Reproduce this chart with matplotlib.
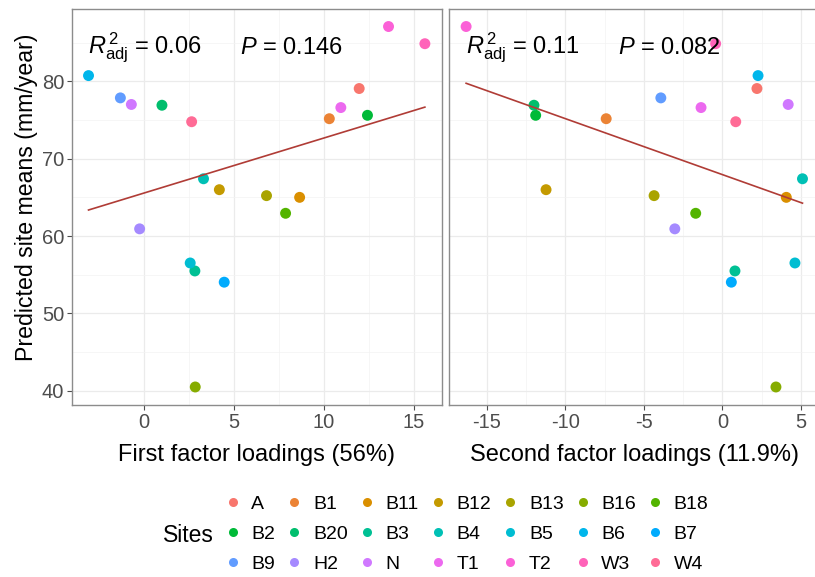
import numpy as np
import matplotlib
matplotlib.use("Agg")
import matplotlib.pyplot as plt
from matplotlib.lines import Line2D

plt.rcParams['font.family'] = ['Liberation Sans', 'DejaVu Sans']
plt.rcParams['mathtext.fontset'] = 'custom'
plt.rcParams['mathtext.rm'] = 'Liberation Sans'
plt.rcParams['mathtext.it'] = 'Liberation Sans:italic'
plt.rcParams['axes.unicode_minus'] = False

sites = ["A", "B1", "B11", "B12", "B13", "B16", "B18",
         "B2", "B20", "B3", "B4", "B5", "B6", "B7",
         "B9", "H2", "N", "T1", "T2", "W3", "W4"]

# factor loadings and predicted site means, one value per site
first_loading = [11.98, 10.32, 8.67, 4.21, 6.83, 2.87, 7.89,
                 12.44, 1.02, 2.85, 3.33, 2.59, -3.06, 4.48,
                 -1.29, -0.22, -0.68, 10.96, 13.61, 15.63, 2.67]
second_loading = [2.20, -7.40, 4.07, -11.23, -4.35, 3.41, -1.70,
                  -11.89, -12.00, 0.80, 5.10, 4.62, 2.27, 0.57,
                  -3.92, -3.03, 4.19, -1.36, -16.32, -0.43, 0.85]
site_means = [79.06, 75.16, 65.00, 65.99, 65.22, 40.50, 62.94,
              75.60, 76.90, 55.49, 67.40, 56.52, 80.73, 54.04,
              77.85, 60.93, 77.00, 76.60, 87.07, 84.85, 74.77]

panels = [
    ("First factor loadings (56%)", first_loading, "0.06", "0.146", [0, 5, 10, 15]),
    ("Second factor loadings (11.9%)", second_loading, "0.11", "0.082", [-15, -10, -5, 0, 5]),
]


def hue_pal(n, c=100.0, l=65.0):
    # ggplot-style evenly spaced HCL hues, converted Luv -> XYZ -> sRGB
    hues = np.linspace(15, 375, n + 1)[:n]
    xn, yn, zn = 95.047, 100.0, 108.883
    un = 4 * xn / (xn + 15 * yn + 3 * zn)
    vn = 9 * yn / (xn + 15 * yn + 3 * zn)
    m = np.array([[3.2404542, -1.5371385, -0.4985314],
                  [-0.9692660, 1.8760108, 0.0415560],
                  [0.0556434, -0.2040259, 1.0572252]])
    out = []
    for h in hues:
        u = c * np.cos(np.radians(h))
        v = c * np.sin(np.radians(h))
        y = yn * ((l + 16) / 116) ** 3
        up = u / (13 * l) + un
        vp = v / (13 * l) + vn
        x = 9 * y * up / (4 * vp)
        z = y * (12 - 3 * up - 20 * vp) / (4 * vp)
        rgb = m @ (np.array([x, y, z]) / 100)
        rgb = np.where(rgb <= 0.0031308, 12.92 * rgb, 1.055 * np.power(np.clip(rgb, 0, None), 1 / 2.4) - 0.055)
        out.append(tuple(np.clip(rgb, 0, 1)))
    return out


colors = hue_pal(len(sites))
W, H = 815, 577
fig = plt.figure(figsize=(W / 100, H / 100), dpi=100)

boxes = [(71.7, 8.5, 370, 396.5), (449.3, 8.5, 370, 396.5)]
yvals = np.array(site_means)

for i, ((title, xs, r2, pval, xticks), (l, t, w, h)) in enumerate(zip(panels, boxes)):
    ax = fig.add_axes([l / W, 1 - (t + h) / H, w / W, h / H])
    xs = np.array(xs)
    ax.scatter(xs, yvals, c=colors, s=62, edgecolors='none', zorder=3)

    slope, icpt = np.polyfit(xs, yvals, 1)
    xl = np.array([xs.min(), xs.max()])
    ax.plot(xl, slope * xl + icpt, color='#B03C36', lw=1.2, zorder=4)

    span = xs.max() - xs.min()
    ax.set_xlim(xs.min() - 0.05 * span, xs.max() + 0.05 * span)
    yspan = yvals.max() - yvals.min()
    ax.set_ylim(yvals.min() - 0.05 * yspan, yvals.max() + 0.05 * yspan)

    ax.set_xticks(xticks)
    ax.set_xticks(np.array(xticks[:-1]) + 2.5, minor=True)
    ax.set_yticks([40, 50, 60, 70, 80])
    ax.set_yticks([45, 55, 65, 75, 85], minor=True)
    ax.grid(which='major', color='#EBEBEB', lw=0.9)
    ax.grid(which='minor', color='#F3F3F3', lw=0.5)
    ax.set_axisbelow(True)
    for sp in ax.spines.values():
        sp.set_color('#8C8C8C')
        sp.set_linewidth(1.0)
    ax.tick_params(which='major', length=3.5, color='#4D4D4D', labelcolor='#4D4D4D',
                   labelsize=14.5, pad=2)
    ax.tick_params(which='minor', length=0)
    ax.set_xlabel(title, fontsize=17, labelpad=9)
    if i == 0:
        ax.set_ylabel("Predicted site means (mm/year)", fontsize=16.7, labelpad=3)
        ax.yaxis.label.set_y(0.525)
    else:
        ax.set_yticklabels([])
        ax.tick_params(axis='y', length=0)

    ax.text(0.044, 0.9, r"$R^{\,2}_{\mathrm{adj}}$" + " = " + r2, transform=ax.transAxes,
            fontsize=17, va='center', ha='left', zorder=5)
    ax.text(0.455, 0.9, r"$P$" + " = " + pval, transform=ax.transAxes,
            fontsize=17, va='center', ha='left', zorder=5)

# legend laid out row-wise, seven per row
handles = [Line2D([], [], marker='o', ls='none', color=col, markersize=6.5, markeredgewidth=0)
           for col in colors]
order = [r * 7 + c for c in range(7) for r in range(3)]
fig.legend([handles[k] for k in order], [sites[k] for k in order], ncol=7,
           loc='center left', bbox_to_anchor=(223 / W, 1 - 534 / H), frameon=False,
           fontsize=14, handlelength=1.0, handletextpad=0.46, columnspacing=0.48,
           labelspacing=0.64, borderpad=0, borderaxespad=0)
fig.text(163 / W, 1 - 535 / H, "Sites", fontsize=16.5, va='center', ha='left')

fig.savefig("out.png", dpi=100)
